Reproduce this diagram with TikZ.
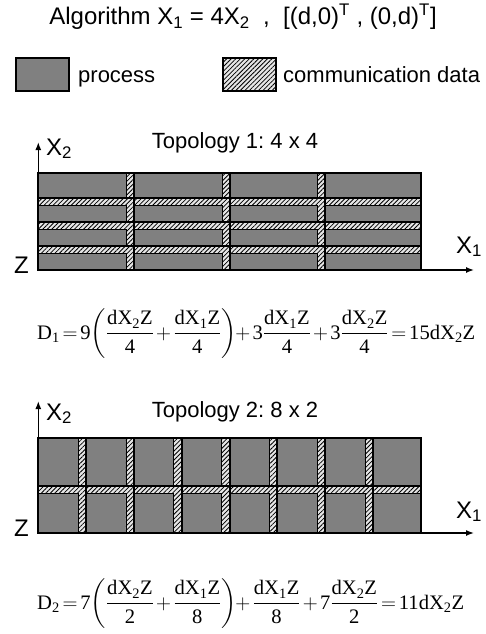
\documentclass[tikz,border=0pt]{standalone}
\usepackage{amsmath}
\usepackage{fontspec}
\setmainfont{Liberation Serif}
\newfontfamily\arialf{Liberation Sans}
\usetikzlibrary{patterns.meta,arrows.meta}
\definecolor{procgray}{RGB}{128,128,128}
\definecolor{hatchbg}{RGB}{230,230,230}
\newcommand\tx[1]{\text{#1}}
\newcommand\dxz[1]{\tx{dX}_{\tx{#1}}\tx{Z}}
\tikzset{
  proc/.style={fill=procgray},
  cellborder/.style={draw=black,line width=2pt},
  hatch/.style={draw=black,line width=0.5pt,preaction={fill=hatchbg},
    pattern={Lines[angle=45,distance=3.2pt,line width=0.8pt]},pattern color=black},
  axis/.style={line width=1.4pt,-{Latex[length=8pt,width=6pt]}},
  lbl/.style={font=\arialf\fontsize{22}{26}\selectfont,inner sep=0pt},
  biglbl/.style={font=\arialf\fontsize{24}{28}\selectfont,inner sep=0pt},
  eqn/.style={font=\fontsize{20.6}{24}\selectfont,inner sep=0pt},
}
\frenchspacing
\begin{document}
\begin{tikzpicture}[x=1pt,y=-1pt]
\useasboundingbox (0,0) rectangle (486,634);
% title
\node[biglbl,anchor=base] (title) at (243,25)
  {Algorithm X\textsubscript{1} = 4X\textsubscript{2} \ ,\ \ [(d,0)\textsuperscript{T} , (0,d)\textsuperscript{T}]};
% legend
\path[proc,cellborder] (16,58) rectangle (69,91);
\node[lbl,anchor=base west] (lproc) at (78,82) {process};
\path[hatch,line width=2pt] (223,58) rectangle (276,91);
\node[lbl,anchor=base west] (lcomm) at (283,82) {communication data};

% ---------- Topology 1 ----------
\def\xo{38.3}\def\cw{95.6}\def\yo{173.3}\def\rh{24.2}\def\sw{7.5}\def\sh{7.5}
\foreach \j in {0,...,3}{
  \foreach \r in {0,...,3}{
    \pgfmathsetmacro\xl{\xo+\j*\cw}\pgfmathsetmacro\xr{\xo+(\j+1)*\cw}
    \pgfmathsetmacro\yt{\yo+\r*\rh}\pgfmathsetmacro\yb{\yo+(\r+1)*\rh}
    \path[proc] (\xl,\yt) rectangle (\xr,\yb);
    \ifnum\r=0
      \ifnum\j<3 \path[hatch] (\xr-\sw,\yt) rectangle (\xr,\yb); \fi
    \else
      \ifnum\j<3
        \path[hatch] (\xl,\yt) -- (\xr,\yt) -- (\xr,\yb) -- (\xr-\sw,\yb) -- (\xr-\sw,\yt+\sh) -- (\xl,\yt+\sh) -- cycle;
      \else
        \path[hatch] (\xl,\yt) rectangle (\xr,\yt+\sh);
      \fi
    \fi
    \path[cellborder] (\xl,\yt) rectangle (\xr,\yb);
  }
}
\coordinate (o1) at (38.3,270);
\coordinate (y1) at (38.3,142);
\coordinate (x1) at (474,270);
\draw[axis] (o1) -- (y1);
\draw[axis] (o1) -- (x1);
\node[biglbl,anchor=base west] (X2a) at (46,155) {X\textsubscript{2}};
\node[lbl,anchor=base] (top1) at (235,148) {Topology 1: 4 x 4};
\node[biglbl,anchor=base west] (X1a) at (456,253) {X\textsubscript{1}};
\node[biglbl,anchor=base west] (Za) at (14,273) {Z};
\node[eqn,anchor=base west] (D1) at (37,339)
 {$\medmuskip=2mu\thickmuskip=2.5mu
 \tx{D}_{\tx{1}} = \tx{9}\!\left(\dfrac{\dxz{2}}{\tx{4}}+\dfrac{\dxz{1}}{\tx{4}}\right)\!+\tx{3}\dfrac{\dxz{1}}{\tx{4}}+\tx{3}\dfrac{\dxz{2}}{\tx{4}}=\tx{15}\dxz{2}$};

% ---------- Topology 2 ----------
\def\xo{38.3}\def\cw{47.8}\def\yo{438.3}\def\rh{47.35}\def\sw{8}\def\sh{8}
\foreach \j in {0,...,7}{
  \foreach \r in {0,1}{
    \pgfmathsetmacro\xl{\xo+\j*\cw}\pgfmathsetmacro\xr{\xo+(\j+1)*\cw}
    \pgfmathsetmacro\yt{\yo+\r*\rh}\pgfmathsetmacro\yb{\yo+(\r+1)*\rh}
    \path[proc] (\xl,\yt) rectangle (\xr,\yb);
    \ifnum\r=0
      \ifnum\j<7 \path[hatch] (\xr-\sw,\yt) rectangle (\xr,\yb); \fi
    \else
      \ifnum\j<7
        \path[hatch] (\xl,\yt) -- (\xr,\yt) -- (\xr,\yb) -- (\xr-\sw,\yb) -- (\xr-\sw,\yt+\sh) -- (\xl,\yt+\sh) -- cycle;
      \else
        \path[hatch] (\xl,\yt) rectangle (\xr,\yt+\sh);
      \fi
    \fi
    \path[cellborder] (\xl,\yt) rectangle (\xr,\yb);
  }
}
\coordinate (o2) at (38.3,533);
\coordinate (y2) at (38.3,401);
\coordinate (x2) at (474,533);
\draw[axis] (o2) -- (y2);
\draw[axis] (o2) -- (x2);
\node[biglbl,anchor=base west] (X2b) at (46,420) {X\textsubscript{2}};
\node[lbl,anchor=base] (top2) at (235,417) {Topology 2: 8 x 2};
\node[biglbl,anchor=base west] (X1b) at (456,518) {X\textsubscript{1}};
\node[biglbl,anchor=base west] (Zb) at (14,536) {Z};
\node[eqn,anchor=base west] (D2) at (37,609)
 {$\medmuskip=2mu\thickmuskip=2.5mu
 \tx{D}_{\tx{2}} = \tx{7}\!\left(\dfrac{\dxz{2}}{\tx{2}}+\dfrac{\dxz{1}}{\tx{8}}\right)\!+\dfrac{\dxz{1}}{\tx{8}}+\tx{7}\dfrac{\dxz{2}}{\tx{2}}=\tx{11}\dxz{2}$};
\end{tikzpicture}
\end{document}
